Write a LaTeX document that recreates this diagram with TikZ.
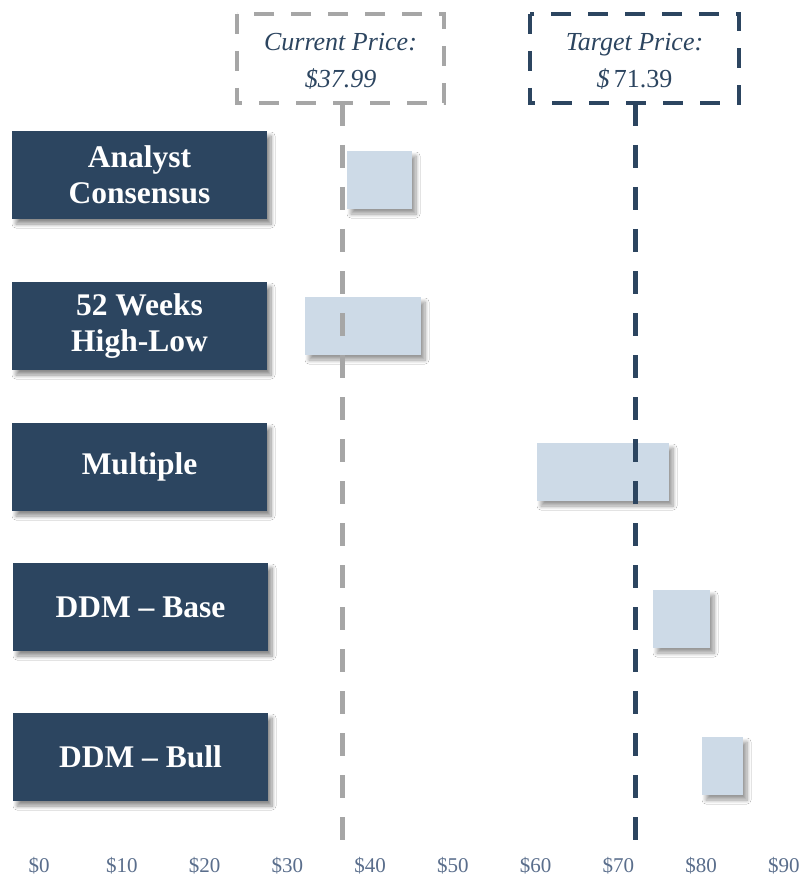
\documentclass[tikz,border=0pt]{standalone}
\usepackage{fontspec}
\setmainfont{Liberation Serif}
\usetikzlibrary{shadows.blur}
\definecolor{navy}{HTML}{2C4560}
\definecolor{barblue}{HTML}{CDDAE7}
\definecolor{dgray}{HTML}{A6A6A6}
\definecolor{axisc}{HTML}{5A6E8C}
\begin{document}
\begin{tikzpicture}[x=1pt,y=-1pt,
  catbox/.style={fill=navy, minimum width=255pt, minimum height=88pt, inner sep=0pt,
    text=white, align=center, font=\fontsize{31.5}{36}\selectfont\bfseries,
    blur shadow={shadow xshift=4pt, shadow yshift=-5pt, shadow blur steps=8, shadow blur radius=4pt, shadow opacity=45}},
  bar/.style={fill=barblue, minimum height=58pt, inner sep=0pt,
    blur shadow={shadow xshift=4pt, shadow yshift=-5pt, shadow blur steps=8, shadow blur radius=4pt, shadow opacity=40}},
  pricetext/.style={inner sep=0pt, align=center, text=navy,
    font=\fontsize{26}{37}\selectfont},
  pricebox/.style={line width=4pt, dash pattern=on 20pt off 17pt},
  vline/.style={line width=5pt, dash pattern=on 23pt off 19pt},
  axislbl/.style={text=axisc, font=\fontsize{21}{24}\selectfont, inner sep=0pt}]
\useasboundingbox (0,0) rectangle (806,877);
\fill[white] (0,0) rectangle (806,877);

% category boxes
\node[catbox] (c1) at (139.5,175) {Analyst\\Consensus};
\node[catbox] (c2) at (139.5,326) {52 Weeks\\High-Low};
\node[catbox] (c3) at (139.5,467) {Multiple};
\node[catbox] (c4) at (140.5,607) {DDM -- Base};
\node[catbox] (c5) at (140.5,757) {DDM -- Bull};

% bars
\node[bar, minimum width=65pt] (b1) at (379.5,180) {};
\node[bar, minimum width=116pt] (b2) at (363,326) {};
\node[bar, minimum width=132pt] (b3) at (603,472) {};
\node[bar, minimum width=57pt] (b4) at (681.5,619) {};
\node[bar, minimum width=41pt] (b5) at (722.5,766) {};

% price boxes
\coordinate (curNW) at (237,14);
\coordinate (curSE) at (444,103);
\coordinate (tgtNW) at (530,14);
\coordinate (tgtSE) at (739,103);
\draw[pricebox, draw=dgray] (curNW) rectangle (curSE);
\draw[pricebox, draw=navy] (tgtNW) rectangle (tgtSE);
\node[pricetext] (cur) at (340.5,61.5) {\itshape Current Price:\\\itshape \$37.99};
\node[pricetext] (tgt) at (634.5,61.5) {\itshape Target Price:\\{\itshape\$}\,71.39};

% vertical lines
\coordinate (curtop) at (342,103);
\coordinate (curend) at (342,845);
\coordinate (tgttop) at (635,103);
\coordinate (tgtend) at (635,845);
\draw[vline, draw=dgray] (curtop) -- (curend);
\draw[vline, draw=navy] (tgttop) -- (tgtend);

% axis labels
\foreach \i in {0,...,9} {
  \node[axislbl] (a\i) at (39+82.75*\i,866) {\$\the\numexpr\i*10\relax};
}
\end{tikzpicture}
\end{document}
